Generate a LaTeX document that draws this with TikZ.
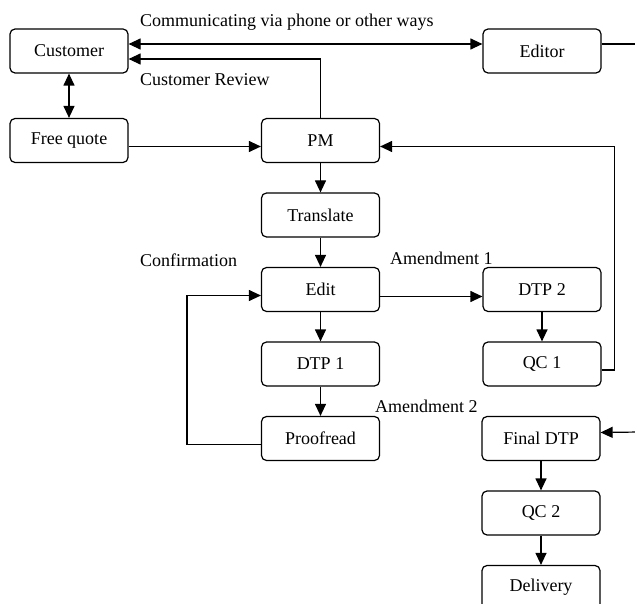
\documentclass[tikz,border=0pt]{standalone}
\usepackage{fontspec}
\setmainfont{Liberation Serif}
\usetikzlibrary{arrows.meta}
\begin{document}
\begin{tikzpicture}[x=1pt,y=-1pt,
  box/.style={draw, rounded corners=5pt, line width=1.2pt, minimum width=118pt, minimum height=44pt, inner sep=0pt, font=\fontsize{18}{20}\selectfont},
  lbl/.style={anchor=west, inner sep=0pt, font=\fontsize{18}{20}\selectfont},
  tip/.tip={Triangle[length=12pt,width=11pt]},
  conn/.style={line width=1.2pt, -tip},
  conn2/.style={line width=1.2pt, tip-tip},
  plain/.style={line width=1.2pt}]
\useasboundingbox (0,0) rectangle (635,604);
\node[box] (cust) at (69,51) {Customer};
\node[box] (ed) at (542,51) {Editor};
\node[box] (fq) at (69,140.5) {Free quote};
\node[box] (pm) at (320.5,140.5) {PM};
\node[box] (tr) at (320.5,215) {Translate};
\node[box] (edit) at (320.5,289.5) {Edit};
\node[box] (dtp2) at (542,289.5) {DTP 2};
\node[box] (dtp1) at (320.5,364) {DTP 1};
\node[box] (qc1) at (542,364) {QC 1};
\node[box] (pr) at (320.5,438.5) {Proofread};
\node[box] (fdtp) at (541,438.5) {Final DTP};
\node[box] (qc2) at (541,513) {QC 2};
\node[box] (del) at (541,587.5) {Delivery};

\coordinate (edout) at (640,44);
\coordinate (fin) at (640,432);

\node[lbl] (l1) at (140,22) {Communicating via phone or other ways};
\node[lbl] (l2) at (140,80) {Customer Review};
\node[lbl] (l3) at (140,260) {Confirmation};
\node[lbl] (l4) at (390,258) {Amendment 1};
\node[lbl] (l5) at (375,406) {Amendment 2};

\draw[conn2] ([yshift=7pt]cust.east) -- ([yshift=7pt]ed.west);
\draw[plain] ([yshift=7pt]ed.east) -- (edout);
\draw[conn] (pm.north) |- ([yshift=-8pt]cust.east);
\draw[conn2] (cust.south) -- (fq.north);
\draw[conn] ([yshift=-6pt]fq.east) -- ([yshift=-6pt]pm.west);
\draw[conn] (pm) -- (tr);
\draw[conn] (tr) -- (edit);
\draw[conn] (edit) -- (dtp1);
\draw[conn] (dtp1) -- (pr);
\draw[conn] ([yshift=-7pt]edit.east) -- ([yshift=-7pt]dtp2.west);
\draw[conn] (dtp2) -- (qc1);
\draw[conn] ([yshift=-6pt]qc1.east) -- ++(13,0) |- ([yshift=-6pt]pm.east);
\draw[conn] ([yshift=-6pt]pr.west) -- ++(-74,0) |- ([yshift=-6pt]edit.west);
\draw[conn] (fin) -- ([yshift=6pt]fdtp.east);
\draw[conn] (fdtp) -- (qc2);
\draw[conn] (qc2) -- (del);
\end{tikzpicture}
\end{document}
